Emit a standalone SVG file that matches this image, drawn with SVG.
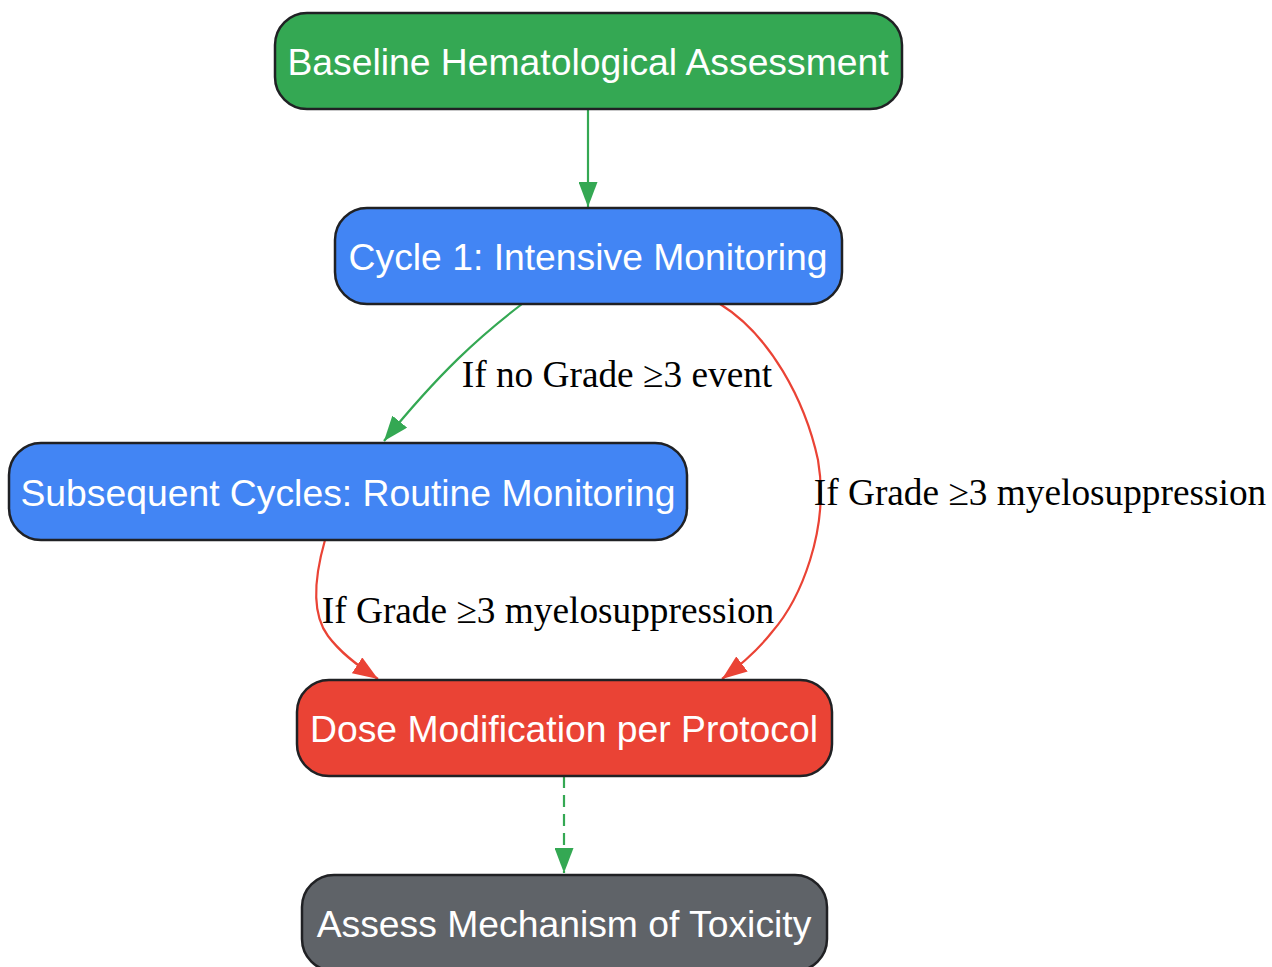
<svg xmlns="http://www.w3.org/2000/svg" width="1272" height="967" viewBox="0 0 1272 967">
<defs>
<style>
.node rect{stroke:#202124;stroke-width:2.5}
.nt{font-family:"Liberation Sans",Arial,sans-serif;font-size:37.3px;fill:#ffffff;text-anchor:middle}
.el{font-family:"Liberation Serif","Times New Roman",serif;font-size:37.3px;fill:#000000;text-anchor:middle}
.eg{fill:none;stroke:#34A853;stroke-width:2.2}
.er{fill:none;stroke:#EA4335;stroke-width:2.2}
</style>
<marker id="ag" viewBox="0 0 25 19" refX="25" refY="9.5" markerWidth="25" markerHeight="19" markerUnits="userSpaceOnUse" orient="auto"><path d="M0,0 L25,9.5 L0,19 Z" fill="#34A853"/></marker>
<marker id="ar" viewBox="0 0 25 19" refX="25" refY="9.5" markerWidth="25" markerHeight="19" markerUnits="userSpaceOnUse" orient="auto"><path d="M0,0 L25,9.5 L0,19 Z" fill="#EA4335"/></marker>
</defs>
<rect width="1272" height="967" fill="#ffffff"/>
<g id="connectors">
<path class="eg" d="M588,109 L588,207" marker-end="url(#ag)"/>
<path class="eg" d="M522,304 C480,336 440,372 384,441" marker-end="url(#ag)"/>
<path class="er" d="M720,304 C770,335 805,400 818,460 C830,530 800,600 772,632 C758,650 742,664 722,679" marker-end="url(#ar)"/>
<path class="er" d="M325,540 C315,575 310,612 328,636 C340,652 355,664 378,679" marker-end="url(#ar)"/>
<path class="eg" d="M564,776 L564,873" stroke-dasharray="12,7" marker-end="url(#ag)"/>
<text class="el" x="617" y="387">If no Grade ≥3 event</text>
<text class="el" x="1040" y="505">If Grade ≥3 myelosuppression</text>
<text class="el" x="548" y="623">If Grade ≥3 myelosuppression</text>
</g>
<g id="baseline" class="node"><rect x="275" y="13" width="627" height="96" rx="32" fill="#34A853"/><text class="nt" x="588" y="75">Baseline Hematological Assessment</text></g>
<g id="cycle1" class="node"><rect x="335" y="208" width="507" height="96" rx="32" fill="#4285F4"/><text class="nt" x="588" y="270">Cycle 1: Intensive Monitoring</text></g>
<g id="subsequent" class="node"><rect x="9" y="443" width="678" height="97" rx="32" fill="#4285F4"/><text class="nt" x="348" y="506">Subsequent Cycles: Routine Monitoring</text></g>
<g id="dose" class="node"><rect x="297" y="680" width="535" height="96" rx="32" fill="#EA4335"/><text class="nt" x="564" y="742">Dose Modification per Protocol</text></g>
<g id="assess" class="node"><rect x="302" y="875" width="525" height="96" rx="32" fill="#5F6368"/><text class="nt" x="564" y="937">Assess Mechanism of Toxicity</text></g>
</svg>
